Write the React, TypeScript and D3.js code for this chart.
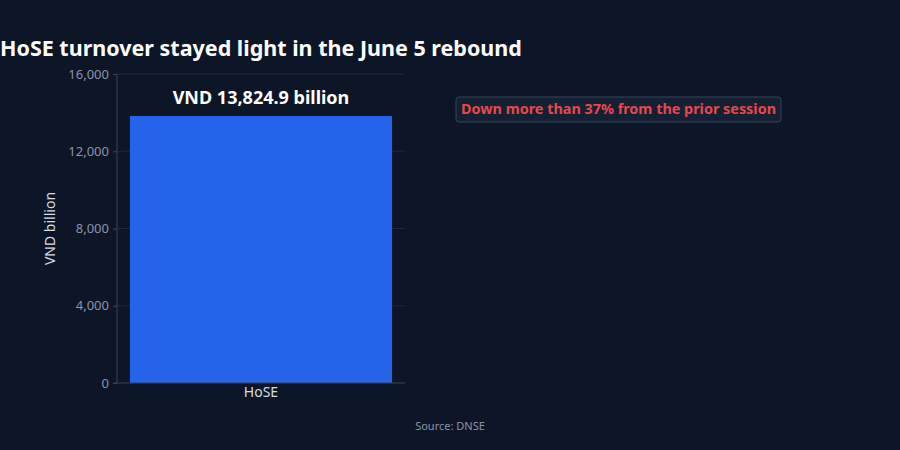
import { useEffect, useRef } from 'react';
import * as d3 from 'd3';

const categories = ['HoSE'];
const turnover = [13824.9];
const yTicks = [0, 4000, 8000, 12000, 16000];
const barLabels = ['VND 13,824.9 billion'];
const title = 'HoSE turnover stayed light in the June 5 rebound';
const note = 'Down more than 37% from the prior session';
const source = 'Source: DNSE';

const width = 900;
const height = 450;
const bg = '#0d1626';
const barColor = '#2563eb';
const tickColor = '#8a94a6';
const axisColor = '#3a4556';
const gridColor = '#1e2939';
const font = '"Noto Sans", "Open Sans", sans-serif';
const margin = { top: 74, right: 495, bottom: 67, left: 117 };

export default function App() {
  const ref = useRef<SVGSVGElement>(null);

  useEffect(() => {
    const svg = d3.select(ref.current);
    svg.selectAll('*').remove();

    const gw = width - margin.left - margin.right;
    const gh = height - margin.top - margin.bottom;

    svg.append('rect').attr('width', width).attr('height', height).attr('fill', bg);

    const g = svg.append('g').attr('transform', `translate(${margin.left},${margin.top})`);

    const x = d3.scaleBand<string>().domain(categories).range([0, gw]).padding(0.047);
    const y = d3.scaleLinear().domain([0, 16000]).range([gh, 0]);

    // grid
    g.append('g')
      .selectAll('line')
      .data(yTicks.filter((t) => t > 0))
      .join('line')
      .attr('x1', 0)
      .attr('x2', gw)
      .attr('y1', (d) => y(d))
      .attr('y2', (d) => y(d))
      .attr('stroke', gridColor)
      .attr('stroke-width', 1);

    // bars
    g.selectAll('.bar')
      .data(categories)
      .join('rect')
      .attr('class', 'bar')
      .attr('x', (d) => x(d)!)
      .attr('width', x.bandwidth())
      .attr('y', (_, i) => y(turnover[i]))
      .attr('height', (_, i) => gh - y(turnover[i]))
      .attr('fill', barColor);

    // bar value labels
    g.selectAll('.val')
      .data(categories)
      .join('text')
      .attr('class', 'val')
      .attr('x', (d) => x(d)! + x.bandwidth() / 2)
      .attr('y', (_, i) => y(turnover[i]) - 12)
      .attr('text-anchor', 'middle')
      .attr('fill', '#ffffff')
      .attr('font-family', font)
      .attr('font-weight', 700)
      .attr('font-size', 18)
      .text((_, i) => barLabels[i]);

    // y axis
    const yAxis = g
      .append('g')
      .call(
        d3
          .axisLeft(y)
          .tickValues(yTicks)
          .tickSize(4)
          .tickPadding(4)
          .tickFormat((d) => d3.format(',')(d as number))
      );
    yAxis.select('.domain').attr('stroke', axisColor).attr('d', `M0,${gh}V0`);
    yAxis.selectAll('line').attr('stroke', axisColor);
    yAxis
      .selectAll('text')
      .attr('fill', tickColor)
      .attr('font-family', font)
      .attr('font-size', 13);

    // x axis
    const xAxis = g
      .append('g')
      .attr('transform', `translate(0,${gh})`)
      .call(d3.axisBottom(x).tickSize(0).tickPadding(4));
    xAxis.select('.domain').attr('stroke', axisColor).attr('d', `M-4,0H${gw}`);
    xAxis
      .selectAll('text')
      .attr('fill', '#d6dbe3')
      .attr('font-family', font)
      .attr('font-size', 14);

    // y axis title
    svg
      .append('text')
      .attr('transform', `translate(55,${margin.top + gh / 2}) rotate(-90)`)
      .attr('text-anchor', 'middle')
      .attr('fill', '#d6dbe3')
      .attr('font-family', font)
      .attr('font-size', 14)
      .text('VND billion');

    // title
    svg
      .append('text')
      .attr('x', 0)
      .attr('y', 56)
      .attr('fill', '#ffffff')
      .attr('font-family', font)
      .attr('font-weight', 700)
      .attr('font-size', 21.5)
      .text(title);

    // annotation
    const ann = svg.append('g');
    const t = ann
      .append('text')
      .attr('x', 618.5)
      .attr('y', 114)
      .attr('text-anchor', 'middle')
      .attr('fill', '#e5484d')
      .attr('font-family', font)
      .attr('font-weight', 700)
      .attr('font-size', 14.4)
      .text(note);
    const bb = (t.node() as SVGTextElement).getBBox();
    ann
      .insert('rect', 'text')
      .attr('x', bb.x - 5)
      .attr('y', 97)
      .attr('width', bb.width + 10)
      .attr('height', 25)
      .attr('rx', 3)
      .attr('fill', '#152033')
      .attr('stroke', '#36445a')
      .attr('stroke-width', 1);

    // source
    svg
      .append('text')
      .attr('x', 450)
      .attr('y', 430)
      .attr('text-anchor', 'middle')
      .attr('fill', '#8a94a6')
      .attr('font-family', font)
      .attr('font-size', 11)
      .text(source);
  }, []);

  return (
    <svg
      ref={ref}
      width={width}
      height={height}
      style={{ position: 'absolute', left: 0, top: 0, display: 'block' }}
    />
  );
}
